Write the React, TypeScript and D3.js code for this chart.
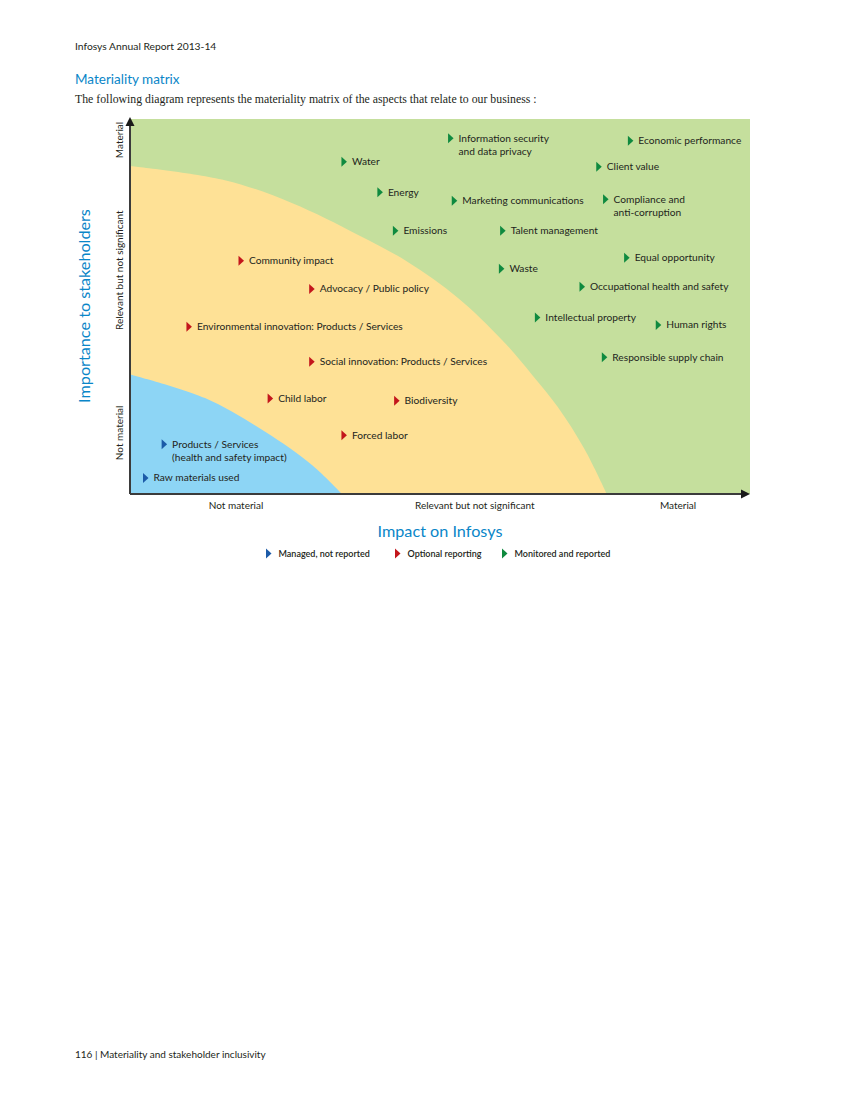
import React from "react";
import * as d3 from "d3";

// ---- Data ----
const levels = ["Not material", "Relevant but not significant", "Material"];
const xTickValues = [17.1, 55.6, 88.4];
const yTickValues = [16.3, 59.7, 94.4];

const groups = ["Managed, not reported", "Optional reporting", "Monitored and reported"];

const managedAspects = [
  { label: ["Products / Services", "(health and safety impact)"], impact: 5.1, importance: 13.3 },
  { label: ["Raw materials used"], impact: 2.1, importance: 4.3 },
];

const optionalAspects = [
  { label: ["Community impact"], impact: 17.5, importance: 62.2 },
  { label: ["Advocacy / Public policy"], impact: 28.9, importance: 54.7 },
  { label: ["Environmental innovation: Products / Services"], impact: 9.1, importance: 44.6 },
  { label: ["Social innovation: Products / Services"], impact: 28.9, importance: 35.3 },
  { label: ["Child labor"], impact: 22.2, importance: 25.5 },
  { label: ["Biodiversity"], impact: 42.6, importance: 24.9 },
  { label: ["Forced labor"], impact: 34.1, importance: 15.7 },
];

const monitoredAspects = [
  { label: ["Information security", "and data privacy"], impact: 51.3, importance: 94.9 },
  { label: ["Economic performance"], impact: 80.3, importance: 94.2 },
  { label: ["Water"], impact: 34.1, importance: 88.6 },
  { label: ["Client value"], impact: 75.2, importance: 87.3 },
  { label: ["Energy"], impact: 39.9, importance: 80.5 },
  { label: ["Marketing communications"], impact: 51.9, importance: 78.2 },
  { label: ["Compliance and", "anti-corruption"], impact: 76.3, importance: 78.6 },
  { label: ["Emissions"], impact: 42.4, importance: 70.2 },
  { label: ["Talent management"], impact: 59.7, importance: 70.2 },
  { label: ["Equal opportunity"], impact: 79.7, importance: 63.0 },
  { label: ["Waste"], impact: 59.5, importance: 60.1 },
  { label: ["Occupational health and safety"], impact: 72.5, importance: 55.3 },
  { label: ["Intellectual property"], impact: 65.3, importance: 47.1 },
  { label: ["Human rights"], impact: 84.8, importance: 45.1 },
  { label: ["Responsible supply chain"], impact: 76.1, importance: 36.5 },
];

// zone boundaries (impact, importance)
const optionalZoneEdge: [number, number][] = [
  [0, 87.5], [15.3, 83.7], [26.1, 77.6], [36.8, 69.1], [44.8, 61.9],
  [52.9, 52.3], [60.0, 41.1], [65.0, 31.5], [69.0, 23.2], [73.3, 12.0], [76.9, 0],
];
const managedZoneEdge: [number, number][] = [
  [0, 31.9], [12.1, 25.6], [21.8, 16.6], [29.4, 7.7], [34.2, 0],
];

// ---- Styles ----
const FONT = "Lato, 'Open Sans', sans-serif";
const TEXT = "#231f20";
const BLUE_TITLE = "#0a86c8";
const groupColors = ["#1c5ba8", "#c3161c", "#0f8a3f"];
const zoneColors = { monitored: "#c5df9d", optional: "#fee196", managed: "#8dd5f5" };

const left = 130, right = 750, top = 119, bottom = 494;

function Marker({ x, y, color }: { x: number; y: number; color: string }) {
  return <path d={`M${x},${y - 5}L${x + 5.5},${y}L${x},${y + 5}Z`} fill={color} />;
}

export default function App() {
  const x = d3.scaleLinear().domain([0, 100]).range([left, right]);
  const y = d3.scaleLinear().domain([0, 100]).range([bottom, top]);

  const edge = d3
    .line<[number, number]>()
    .x((d) => x(d[0]))
    .y((d) => y(d[1]))
    .curve(d3.curveCatmullRom.alpha(0.5));

  const zonePath = (pts: [number, number][]) =>
    `M${x(0)},${y(0)}L${edge(pts)!.slice(1)}Z`;

  const aspectSets = [managedAspects, optionalAspects, monitoredAspects];

  const legendX = [266, 395, 502];

  return (
    <div style={{ position: "absolute", left: 0, top: 0 }}>
      <svg width={850} height={1100} style={{ display: "block", background: "#fff" }}>
        {/* page header */}
        <text x={75} y={50} fontFamily={FONT} fontSize={10.3} fill={TEXT}>
          Infosys Annual Report 2013-14
        </text>
        <text x={75} y={84} fontFamily={FONT} fontSize={13.5} fill={BLUE_TITLE}>
          Materiality matrix
        </text>
        <text x={75} y={103} fontFamily="'Liberation Serif', serif" fontSize={11.8} fill={TEXT}>
          The following diagram represents the materiality matrix of the aspects that relate to our business :
        </text>

        {/* zones */}
        <rect x={left} y={top} width={right - left} height={bottom - top} fill={zoneColors.monitored} />
        <path d={zonePath(optionalZoneEdge)} fill={zoneColors.optional} />
        <path d={zonePath(managedZoneEdge)} fill={zoneColors.managed} />

        {/* axes */}
        <line x1={left} y1={bottom} x2={right - 6} y2={bottom} stroke="#3b3b3b" strokeWidth={2} />
        <line x1={left} y1={bottom} x2={left} y2={top + 6} stroke="#3b3b3b" strokeWidth={2} />
        <path d={`M${right},${bottom}L${right - 9},${bottom - 4.5}L${right - 9},${bottom + 4.5}Z`} fill="#1a1a1a" />
        <path d={`M${left},${top - 2}L${left - 4.5},${top + 7}L${left + 4.5},${top + 7}Z`} fill="#1a1a1a" />

        {/* x tick labels */}
        {levels.map((l, i) => (
          <text key={"xt" + i} x={x(xTickValues[i])} y={bottom + 15} textAnchor="middle" fontFamily={FONT} fontSize={10} fill={TEXT}>
            {l}
          </text>
        ))}
        {/* y tick labels */}
        {levels.map((l, i) => (
          <text
            key={"yt" + i}
            transform={`translate(${left - 7},${y(yTickValues[i])}) rotate(-90)`}
            textAnchor="middle"
            fontFamily={FONT}
            fontSize={10}
            fill={TEXT}
          >
            {l}
          </text>
        ))}

        {/* axis titles */}
        <text x={440} y={537} textAnchor="middle" fontFamily={FONT} fontSize={16.2} fill={BLUE_TITLE}>
          Impact on Infosys
        </text>
        <text
          transform={`translate(90,${306}) rotate(-90)`}
          textAnchor="middle"
          fontFamily={FONT}
          fontSize={16.2}
          fill={BLUE_TITLE}
        >
          Importance to stakeholders
        </text>

        {/* aspects */}
        {aspectSets.map((set, gi) =>
          set.map((d, i) => {
            const px = x(d.impact);
            const py = y(d.importance);
            return (
              <g key={`a${gi}-${i}`}>
                <Marker x={px} y={py} color={groupColors[gi]} />
                {d.label.map((line, li) => (
                  <text
                    key={li}
                    x={px + 10.5}
                    y={py + li * 13.3}
                    dy="0.35em"
                    fontFamily={FONT}
                    fontSize={10.2}
                    fill={TEXT}
                  >
                    {line}
                  </text>
                ))}
              </g>
            );
          })
        )}

        {/* legend */}
        {groups.map((g, i) => (
          <g key={"lg" + i}>
            <Marker x={legendX[i]} y={553.5} color={groupColors[i]} />
            <text x={legendX[i] + 12.5} y={553.5} dy="0.35em" fontFamily={FONT} fontSize={9} fontWeight={600} fill={TEXT}>
              {g}
            </text>
          </g>
        ))}

        {/* footer */}
        <text x={75} y={1058} fontFamily={FONT} fontSize={10} fill={TEXT}>
          116 | Materiality and stakeholder inclusivity
        </text>
      </svg>
    </div>
  );
}
